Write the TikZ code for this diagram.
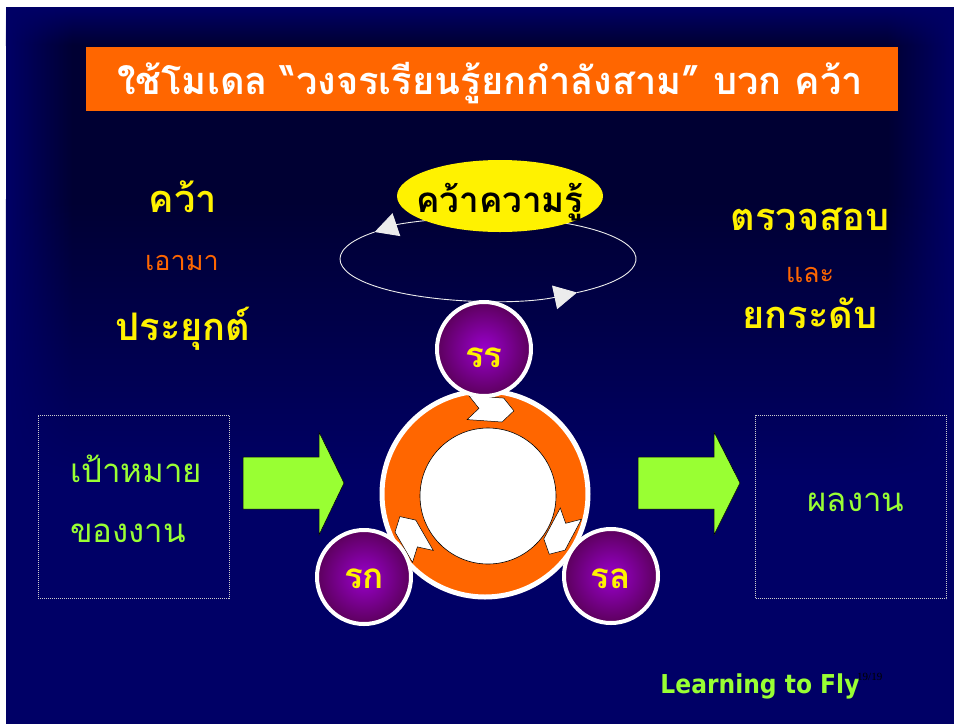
\documentclass[tikz,border=0pt]{standalone}
\usepackage{fontspec}
\usetikzlibrary{shapes.geometric,arrows.meta,fadings,positioning}

\newfontfamily\thaifont[Script=Thai]{Loma}
\newfontfamily\flyfont[FakeStretch=0.9]{DejaVu Sans}
\newfontfamily\pagefont{Liberation Serif}

\definecolor{bgnavy}{HTML}{000066}
\definecolor{bgdark}{HTML}{000033}
\definecolor{slideorange}{HTML}{FF6600}
\definecolor{slidegreen}{HTML}{99FF33}
\definecolor{purplelight}{HTML}{9900CC}
\definecolor{purpledark}{HTML}{5C005C}

% slide background: dark middle, navy rim
\pgfdeclarehorizontalshading{bgglow}{100bp}{color(0bp)=(bgnavy); color(25bp)=(bgnavy);
  color(28.5bp)=(bgdark); color(71.5bp)=(bgdark); color(75bp)=(bgnavy); color(100bp)=(bgnavy)}
\tikzfading[name=fadein, top color=transparent!100, bottom color=transparent!0]
\tikzfading[name=fadeout, top color=transparent!0, bottom color=transparent!100]

\begin{document}
\begin{tikzpicture}[x=1pt, y=-1pt,
    titleword/.style={font=\thaifont\bfseries\fontsize{38}{42}\selectfont, text=white, anchor=base, inner sep=0pt},
    bigword/.style={font=\thaifont\bfseries\fontsize{38}{42}\selectfont, text=yellow, anchor=base, inner sep=0pt},
    smallword/.style={font=\thaifont\fontsize{27}{30}\selectfont, text=slideorange, anchor=base, inner sep=0pt},
    boxword/.style={font=\thaifont\fontsize{33}{36}\selectfont, text=slidegreen, anchor=base, inner sep=0pt},
    stage/.style={circle, draw=white, line width=4pt, minimum size=94pt, inner color=purplelight, outer color=purpledark},
    stageword/.style={font=\thaifont\bfseries\fontsize{35}{38}\selectfont, text=yellow, anchor=base, inner sep=0pt},
    framebox/.style={draw=gray!40!white, line width=0.9pt, dash pattern=on 1pt off 1pt, minimum width=191pt, minimum height=183pt},
    blockarrow/.style={fill=slidegreen, draw=black, line width=0.5pt},
    orbit/.style={draw=white!85!gray, line width=0.9pt, -{Triangle[length=23pt, width=24pt]}},
    chevron/.style={fill=white, draw=black, line width=0.5pt}
]

% Background
\useasboundingbox (0,0) rectangle (954,724);
\fill[white] (0,0) rectangle (954,724);
\fill[bgnavy] (6,7) rectangle (954,724);
\shade[shading=bgglow, path fading=fadein] (6,7) rectangle (954,45);
\shade[shading=bgglow] (6,45) rectangle (954,200);
\shade[shading=bgglow, path fading=fadeout] (6,200) rectangle (954,480);

% Title bar
\node[fill=slideorange, minimum width=812pt, minimum height=64pt, inner sep=0pt] (title) at (492,79) {};
\node[titleword] (titletext) at (490,94) {ใช้โมเดล “วงจรเรียนรู้ยกกำลังสาม” บวก คว้า};

% Side words
\node[bigword] (grab) at (183,212) {คว้า};
\node[smallword] (bring) at (182,270) {เอามา};
\node[bigword] (apply) at (183,340) {ประยุกต์};
\node[bigword] (check) at (810,230) {ตรวจสอบ};
\node[smallword] (and) at (810,282) {และ};
\node[bigword] (raise) at (810,328) {ยกระดับ};

% Knowledge orbit
\draw[orbit] (488,259) ++(220:148 and 42) arc[start angle=220, end angle=53, x radius=148, y radius=42];
\draw[orbit] (488,259) ++(53:148 and 42) arc[start angle=53, end angle=-140, x radius=148, y radius=42];
\node[ellipse, fill=yellow, minimum width=206pt, minimum height=72pt, inner sep=0pt] (knowbg) at (500,196) {};
\node[font=\thaifont\bfseries\fontsize{35}{38}\selectfont, anchor=base, inner sep=0pt] (know) at (500,212) {คว้าความรู้};

% Ring
\node[circle, fill=slideorange, draw=white, line width=5pt, minimum size=206pt] (ring) at (485,494) {};
\node[circle, fill=white, draw=black, line width=0.6pt, minimum size=136pt] (hub) at (488,496) {};
\foreach \a/\r in {-86/-4, 28/-118, 150/120}
    \filldraw[chevron, shift={(ring.center)}, shift={(\a:85)}, rotate=\r]
        (-23,-12) -- (12,-12) -- (23,0) -- (12,12) -- (-23,12) -- (-12,0) -- cycle;

% Stage circles
\node[stage] (rr) at (484,349) {};
\node[stage] (rk) at (364,577) {};
\node[stage] (rl) at (611,576) {};
\node[stageword] (rrtext) at (484,367) {รร};
\node[stageword] (rktext) at (364,588) {รก};
\node[stageword] (rltext) at (611,588) {รล};

% Goal and result
\node[framebox] (goal) at (133.5,506.5) {};
\node[framebox] (result) at (851,507) {};
\node[boxword, anchor=base west] (goaltext) at (70,482) {เป้าหมาย};
\node[boxword, anchor=base west] (worktext) at (70,542) {ของงาน};
\node[boxword] (resulttext) at (856,511) {ผลงาน};

% Block arrows
\filldraw[blockarrow] (243,457) -- (319,457) -- (319,432) -- (344,483) -- (319,535) -- (319,509) -- (243,509) -- cycle;
\filldraw[blockarrow] (638,457) -- (714,457) -- (714,432) -- (740,483) -- (714,535) -- (714,509) -- (638,509) -- cycle;

% Footer
\node[font=\flyfont\bfseries\fontsize{26}{28}\selectfont, text=slidegreen, anchor=base, inner sep=0pt] (fly) at (760,693) {Learning to Fly};
\node[font=\pagefont\fontsize{11}{12}\selectfont, anchor=base west, inner sep=0pt] (page) at (857,680) {19/19};

\end{tikzpicture}
\end{document}
